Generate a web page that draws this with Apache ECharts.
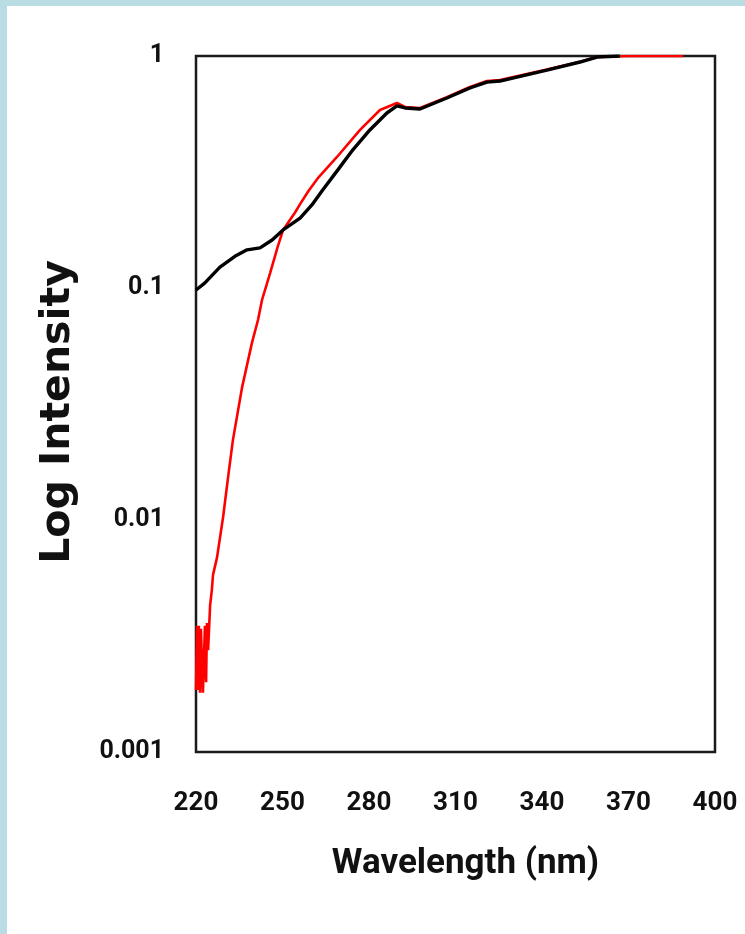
<!DOCTYPE html>
<html>
<head>
<meta charset="utf-8">
<script src="https://cdn.jsdelivr.net/npm/echarts@6/dist/echarts.min.js"></script>
<style>
  html, body { margin: 0; padding: 0; width: 745px; height: 934px; background: #b9dde2; overflow: hidden; }
  #chart { position: absolute; left: 7px; top: 6px; width: 738px; height: 928px; background: #ffffff; }
</style>
</head>
<body>
<div id="chart"></div>
<script>
// Wavelength axis ticks (nm)
const xTicks = [220, 250, 280, 310, 340, 370, 400];
// Log intensity ticks
const yTicks = [0.001, 0.01, 0.1, 1];

// Black curve
const blackX = [220, 223, 228.3, 233.5, 237.7, 242.2, 246.4, 250.2, 256.1, 260.2, 264, 269.2, 274.4, 280.3, 286.2, 289.7, 292.5, 297.7, 307, 315, 320.9, 325.4, 341.7, 353.2, 359.1, 367];
const blackY = [0.098, 0.105, 0.123, 0.137, 0.146, 0.149, 0.161, 0.178, 0.200, 0.228, 0.265, 0.323, 0.394, 0.480, 0.568, 0.609, 0.597, 0.591, 0.659, 0.728, 0.772, 0.780, 0.870, 0.942, 0.99, 1.0];

// Red curve
const redX = [220, 220.35, 220.7, 221, 221.4, 221.7, 222.4, 223.1, 223.5, 223.8, 224.2, 224.9, 225.5, 225.9, 227.3, 229.4, 231.1, 232.8, 236, 239.4, 241.5, 242.9, 245.7, 248.3, 250.2, 254.3, 256.1, 259, 262.5, 268.9, 276.9, 283.8, 289.7, 292.5, 297.7, 307, 315, 320.9, 325.4, 341.7, 353.2, 359.1, 370, 389];
const redY = [0.00185, 0.0035, 0.00185, 0.0035, 0.0018, 0.0034, 0.0018, 0.0035, 0.0020, 0.0036, 0.00275, 0.0043, 0.0050, 0.0058, 0.0069, 0.0103, 0.0152, 0.0221, 0.0374, 0.058, 0.0728, 0.0888, 0.116, 0.150, 0.178, 0.211, 0.230, 0.262, 0.300, 0.367, 0.480, 0.585, 0.627, 0.603, 0.597, 0.665, 0.735, 0.78, 0.788, 0.875, 0.945, 0.99, 1.0, 1.0];

const xTitle = 'Wavelength (nm)';
const yTitle = 'Log Intensity';

const pairs = (xs, ys) => xs.map((x, i) => [x, ys[i]]);
const tickFont = 'Roboto, "Liberation Sans", sans-serif';

const chart = echarts.init(document.getElementById('chart'), null, { renderer: 'canvas' });
chart.setOption({
  animation: false,
  backgroundColor: '#ffffff',
  grid: {
    left: 189, right: 30, top: 50, bottom: 182,
    show: true, borderColor: '#1a1a1a', borderWidth: 2.5, backgroundColor: 'transparent'
  },
  xAxis: {
    type: 'value',
    min: xTicks[0], max: xTicks[xTicks.length - 1], interval: 30,
    axisLine: { show: true, lineStyle: { color: '#1a1a1a', width: 2 } },
    axisTick: { show: false },
    splitLine: { show: false },
    axisLabel: {
      margin: 38, fontSize: 26, fontWeight: 'bold', color: '#111', fontFamily: tickFont,
      showMinLabel: true, showMaxLabel: true,
      formatter: v => xTicks.includes(v) ? String(v) : ''
    },
    name: xTitle, nameLocation: 'middle', nameGap: 95,
    nameTextStyle: { fontSize: 35, fontWeight: 'bold', color: '#111', fontFamily: tickFont, padding: [0, 0, 0, 20] }
  },
  yAxis: {
    type: 'log', logBase: 10,
    min: yTicks[0], max: yTicks[yTicks.length - 1],
    axisLine: { show: true, lineStyle: { color: '#1a1a1a', width: 2 } },
    axisTick: { show: false },
    splitLine: { show: false },
    minorTick: { show: false },
    axisLabel: {
      margin: 32, fontSize: 25, fontWeight: 'bold', color: '#111', fontFamily: tickFont,
      formatter: v => {
        const t = yTicks.find(k => Math.abs(Math.log10(k) - Math.log10(v)) < 1e-6);
        return t === undefined ? '' : String(t);
      }
    },
    name: yTitle, nameLocation: 'middle', nameGap: 117, nameRotate: 90,
    nameTextStyle: { fontSize: 41, fontWeight: 'bold', color: '#111', fontFamily: '"DejaVu Sans", "Open Sans", sans-serif', padding: [0, 16, 0, 0] }
  },
  series: [
    {
      name: 'red', type: 'line', data: pairs(redX, redY), showSymbol: false, symbol: 'none',
      lineStyle: { color: '#ff0000', width: 2.6 }, z: 2, clip: true
    },
    {
      name: 'black', type: 'line', data: pairs(blackX, blackY), showSymbol: false, symbol: 'none',
      lineStyle: { color: '#000000', width: 3.4 }, z: 3, clip: true
    }
  ]
});
</script>
</body>
</html>
